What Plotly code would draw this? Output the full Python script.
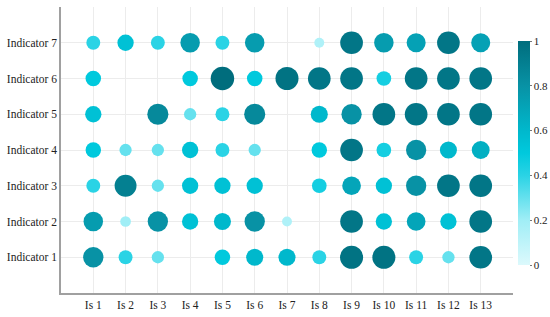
import plotly.graph_objects as go

categories = ["Is 1", "Is 2", "Is 3", "Is 4", "Is 5", "Is 6", "Is 7",
              "Is 8", "Is 9", "Is 10", "Is 11", "Is 12", "Is 13"]
indicators = ["Indicator 1", "Indicator 2", "Indicator 3", "Indicator 4",
              "Indicator 5", "Indicator 6", "Indicator 7"]

indicator_1 = [0.80, 0.40, 0.30, None, 0.50, 0.60, 0.60, 0.40, 0.97, 0.97, 0.40, 0.30, 0.95]
indicator_2 = [0.75, 0.20, 0.80, 0.55, 0.60, 0.80, 0.15, None, 0.95, 0.55, 0.70, 0.55, 0.95]
indicator_3 = [0.40, 0.90, 0.30, 0.55, 0.55, 0.55, None, 0.45, 0.70, 0.55, 0.80, 0.95, 0.95]
indicator_4 = [0.50, 0.30, 0.30, 0.55, 0.40, 0.30, None, 0.50, 0.95, 0.45, 0.80, 0.60, 0.65]
indicator_5 = [0.55, None, 0.85, 0.30, 0.40, 0.85, None, 0.60, 0.80, 0.95, 0.95, 0.95, 0.95]
indicator_6 = [0.50, None, None, 0.50, 1.00, 0.50, 0.97, 0.95, 0.95, 0.45, 0.95, 0.95, 0.95]
indicator_7 = [0.40, 0.55, 0.40, 0.75, 0.40, 0.75, None, 0.15, 0.95, 0.75, 0.72, 0.95, 0.72]

rows = [indicator_1, indicator_2, indicator_3, indicator_4,
        indicator_5, indicator_6, indicator_7]

xs, ys, vs = [], [], []
for j, row in enumerate(rows):
    for i, v in enumerate(row):
        if v is None:
            continue
        xs.append(i + 1)
        ys.append(j + 1)
        vs.append(v)

sizes = [7.5 + 16 * v for v in vs]

colorscale = [[0, '#dcf9fc'], [0.2, '#a0eef6'], [0.4, '#2ad3e5'], [0.5, '#00c9dd'],
              [0.6, '#00b8cc'], [0.8, '#0892a5'], [1, '#006d7d']]

font_family = "Liberation Serif, Times New Roman, serif"

fig = go.Figure(go.Scatter(
    x=xs, y=ys, mode="markers",
    marker=dict(
        size=sizes, color=vs, cmin=0, cmax=1, colorscale=colorscale,
        opacity=1, line=dict(width=0),
        colorbar=dict(
            thickness=12, len=0.783, lenmode="fraction",
            x=1.011, xanchor="left", y=0.4895, yanchor="middle",
            xpad=0, ypad=0,
            outlinewidth=0,
            tickvals=[0, 0.2, 0.4, 0.6, 0.8, 1],
            ticktext=["0", "0.2", "0.4", "0.6", "0.8", "1"],
            ticks="outside", ticklen=2, tickcolor="#777",
            tickfont=dict(family=font_family, size=11, color="#222"),
        ),
    ),
    hoverinfo="skip",
))

fig.update_layout(
    template="none",
    width=550, height=317,
    margin=dict(l=61, r=37, t=7, b=24, autoexpand=False),
    plot_bgcolor="white", paper_bgcolor="white",
    showlegend=False,
    font=dict(family=font_family, size=12, color="#222"),
    xaxis=dict(
        range=[0, 14], tickvals=list(range(1, 14)), ticktext=categories,
        showgrid=True, gridcolor="#ececec", gridwidth=1, zeroline=False,
        showline=True, linecolor="#a0a0a0", linewidth=1.5, automargin=False,
        ticks="", tickfont=dict(family=font_family, size=11.5, color="#222"),
        fixedrange=True,
    ),
    yaxis=dict(
        range=[0, 8], tickvals=list(range(1, 8)), ticktext=indicators,
        showgrid=True, gridcolor="#ececec", gridwidth=1, zeroline=False,
        showline=True, linecolor="#a0a0a0", linewidth=1.5, automargin=False,
        ticks="", tickfont=dict(family=font_family, size=11.5, color="#222"),
        fixedrange=True,
    ),
)

fig.write_html(
    "out.html",
    config={"displayModeBar": False},
    post_script="document.body.style.margin='0';document.body.style.overflow='hidden';",
)
